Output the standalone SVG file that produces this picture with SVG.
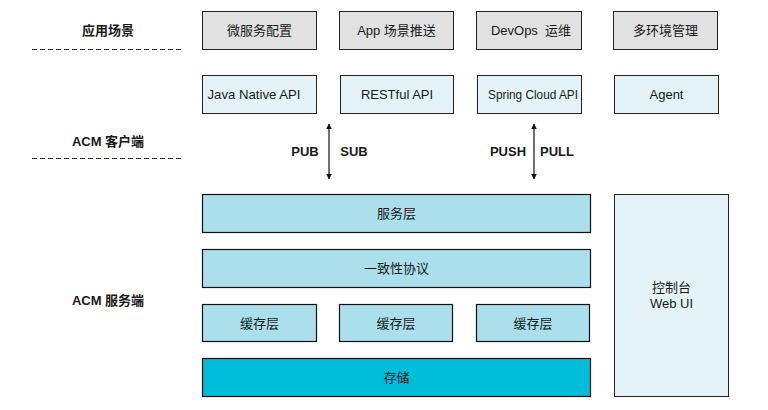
<svg xmlns="http://www.w3.org/2000/svg" width="768" height="410" viewBox="0 0 768 410">
<defs>
<style>
text{font-family:"Liberation Sans","Noto Sans CJK SC",sans-serif;font-size:13px;fill:#1a1a1a;text-anchor:middle;dominant-baseline:central}
.lbl{font-weight:bold;font-size:13px}
.gray{fill:#e1e1e1;stroke:#222;stroke-width:1}
.lite{fill:#e3f3f7;stroke:#222;stroke-width:1}
.mid{fill:#aadfeb;stroke:#111;stroke-width:1.2}
.deep{fill:#00bdd9;stroke:#111;stroke-width:1.2}
.dash{stroke:#222;stroke-width:1;stroke-dasharray:5,3}
.arr{stroke:#111;stroke-width:1.2;marker-start:url(#ah);marker-end:url(#ah)}
</style>
<marker id="ah" viewBox="0 0 10 10" refX="9" refY="5" markerWidth="6" markerHeight="7" orient="auto-start-reverse" markerUnits="userSpaceOnUse"><path d="M0,0 L10,5 L0,10 z" fill="#111"/></marker>
</defs>
<rect width="768" height="410" fill="#fff"/>
<g id="labels">
<text class="lbl" x="108" y="30">应用场景</text>
<text class="lbl" x="108" y="141">ACM 客户端</text>
<text class="lbl" x="108" y="300">ACM 服务端</text>
<line class="dash" x1="32" y1="49.5" x2="184" y2="49.5"/>
<line class="dash" x1="32" y1="158.5" x2="184" y2="158.5"/>
</g>
<g id="scene1"><rect class="gray" x="202.5" y="11.5" width="114" height="38"/><text x="259.5" y="30.5">微服务配置</text></g>
<g id="scene2"><rect class="gray" x="339.5" y="11.5" width="114" height="38"/><text x="396.5" y="30.5">App 场景推送</text></g>
<g id="scene3"><rect class="gray" x="476.5" y="11.5" width="105" height="38"/><text x="531" y="30.5" xml:space="preserve">DevOps  运维</text></g>
<g id="scene4"><rect class="gray" x="613.5" y="11.5" width="104" height="38"/><text x="665.5" y="30.5">多环境管理</text></g>
<g id="api1"><rect class="lite" x="202.5" y="75.5" width="114" height="38"/><text x="254" y="94.5" font-size="12" textLength="93" lengthAdjust="spacingAndGlyphs">Java Native API</text></g>
<g id="api2"><rect class="lite" x="340.5" y="75.5" width="113" height="38"/><text x="397" y="94.5" font-size="12">RESTful API</text></g>
<g id="api3"><rect class="lite" x="477.5" y="75.5" width="104" height="38"/><text x="533" y="94.5" font-size="12" textLength="90" lengthAdjust="spacingAndGlyphs">Spring Cloud API</text></g>
<g id="api4"><rect class="lite" x="614.5" y="75.5" width="104" height="38"/><text x="666.5" y="94.5" font-size="12">Agent</text></g>
<g id="svc"><rect class="mid" x="202.5" y="194.5" width="388" height="38"/><text x="396.5" y="213.5">服务层</text></g>
<g id="consensus"><rect class="mid" x="202.5" y="249.5" width="388" height="38"/><text x="396.5" y="268.5">一致性协议</text></g>
<g id="cache1"><rect class="mid" x="202.5" y="304.5" width="114" height="37"/><text x="259.5" y="323">缓存层</text></g>
<g id="cache2"><rect class="mid" x="339.5" y="304.5" width="113" height="37"/><text x="396" y="323">缓存层</text></g>
<g id="cache3"><rect class="mid" x="476.5" y="304.5" width="113" height="37"/><text x="533" y="323">缓存层</text></g>
<g id="storage"><rect class="deep" x="202.5" y="358.5" width="388" height="38"/><text x="396.5" y="377.5">存储</text></g>
<g id="console"><rect class="lite" x="614.5" y="194.5" width="114" height="202"/><text x="671.5" y="287">控制台</text><text x="671.5" y="303">Web UI</text></g>
<g id="connectors">
<line class="arr" x1="329" y1="124" x2="329" y2="179"/>
<text class="lbl" x="305" y="151">PUB</text>
<text class="lbl" x="354" y="151">SUB</text>
<line class="arr" x1="534" y1="124" x2="534" y2="179"/>
<text class="lbl" x="508" y="151">PUSH</text>
<text class="lbl" x="557" y="151">PULL</text>
</g>
</svg>
